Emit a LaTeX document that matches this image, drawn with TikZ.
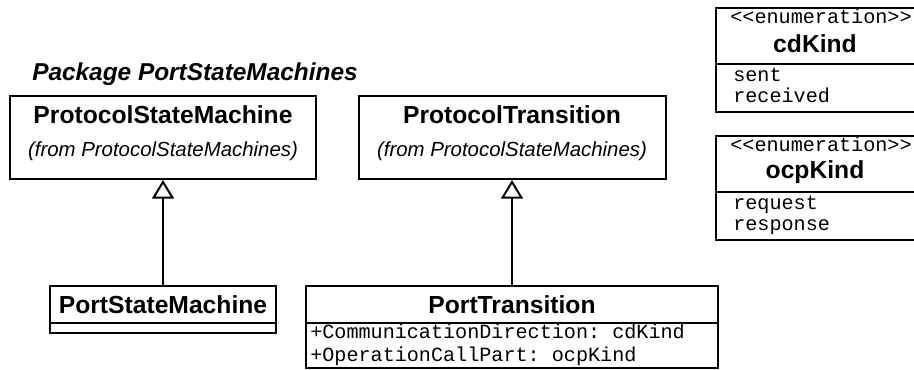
\documentclass[tikz,border=0pt]{standalone}
\usepackage{fontspec}
\setmainfont{Liberation Sans}
\setmonofont{Liberation Mono}
\usetikzlibrary{arrows.meta}

\begin{document}
\begin{tikzpicture}[x=0.75pt,y=-0.75pt,
  box/.style={draw,line width=1.5pt,inner sep=0pt},
  cname/.style={inner sep=0pt,font=\fontsize{18.5}{20}\selectfont\bfseries},
  fromtxt/.style={inner sep=0pt,font=\fontsize{15.3}{17}\selectfont\itshape},
  mono/.style={inner sep=0pt,anchor=base west,font=\fontsize{15.1}{17}\selectfont\ttfamily},
  stereo/.style={inner sep=0pt,anchor=base,font=\fontsize{15.1}{17}\selectfont\ttfamily},
  inherit/.style={line width=1.5pt,-{Triangle[fill=white,length=14pt,width=16.5pt]}}]

\useasboundingbox (0,0) rectangle (914,369);

\node[inner sep=0pt,anchor=west,font=\fontsize{18.3}{20}\selectfont\bfseries\itshape] (pkg) at (32,74) {Package PortStateMachines};

% classes from ProtocolStateMachines
\node[box,minimum width=229.5pt,minimum height=62.25pt] (psm) at (163,137.5) {};
\node[cname] (psmname) at (163,115) {ProtocolStateMachine};
\node[fromtxt] (psmfrom) at (163,151) {(from ProtocolStateMachines)};

\node[box,minimum width=230.25pt,minimum height=62.25pt] (pt) at (512,137.5) {};
\node[cname] (ptname) at (512,115) {ProtocolTransition};
\node[fromtxt] (ptfrom) at (512,151) {(from ProtocolStateMachines)};

% port classes
\node[box,minimum width=169.5pt,minimum height=27.75pt] (psmport) at (163,304.5) {};
\node[box,minimum width=169.5pt,minimum height=7.5pt] (psmportb) at (163,328) {};
\node[cname] (psmportname) at (163,305) {PortStateMachine};

\node[box,minimum width=309pt,minimum height=27.75pt] (ptport) at (512,304.5) {};
\node[box,line width=1pt,minimum width=309pt,minimum height=33.75pt] (ptportb) at (512,345.5) {};
\node[cname] (ptportname) at (512,305) {PortTransition};
\node[mono] (attr1) at (310,338) {+CommunicationDirection: cdKind};
\node[mono] (attr2) at (310,361) {+OperationCallPart: ocpKind};

% enumerations
\node[box,minimum width=151.5pt,minimum height=42pt] (cd) at (817,36) {};
\node[box,minimum width=151.5pt,minimum height=36pt] (cdb) at (817,88) {};
\node[stereo] (cdst) at (821,23) {<<enumeration>>};
\node[cname] (cdname) at (815,44) {cdKind};
\node[mono] (sent) at (733,81) {sent};
\node[mono] (received) at (733,102) {received};

\node[box,minimum width=151.5pt,minimum height=42pt] (ocp) at (817,164) {};
\node[box,minimum width=151.5pt,minimum height=36pt] (ocpb) at (817,216) {};
\node[stereo] (ocpst) at (821,151) {<<enumeration>>};
\node[cname] (ocpname) at (815,172) {ocpKind};
\node[mono] (request) at (733,209) {request};
\node[mono] (response) at (733,230) {response};

\draw[inherit] (psmport) -- (psm);
\draw[inherit] (ptport) -- (pt);

\end{tikzpicture}
\end{document}
